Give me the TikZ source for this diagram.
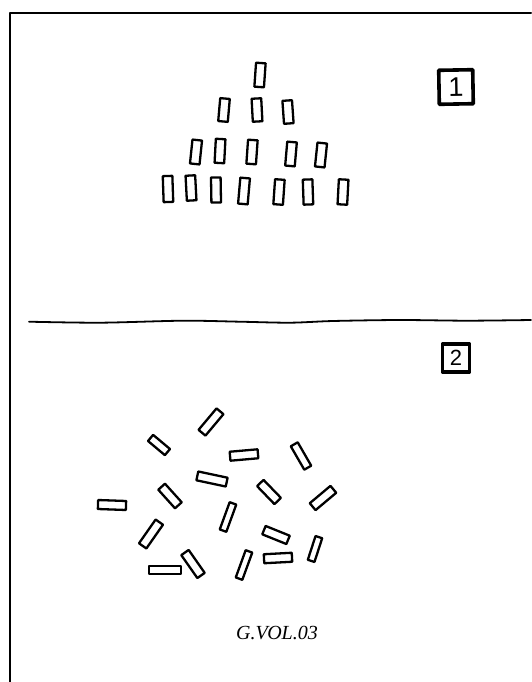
\documentclass[tikz,border=0pt]{standalone}
\usepackage{fontspec}
\setmainfont{Liberation Serif}
\setsansfont{Liberation Sans}
\usepackage{tikz}
\usepackage{xcolor}

\begin{document}
\begin{tikzpicture}[x=1pt,y=-1pt,line cap=round,line join=round,
  stick/.style={line width=2.3pt},
  numbox/.style={draw,line width=3.6pt,inner sep=0pt,font=\sffamily\fontsize{27}{27}\selectfont}]
\useasboundingbox (0,0) rectangle (531,682);
\draw[line width=2pt] (10,682) -- (10,13) -- (531,13);
% 1: sticks in a stack
\draw[stick,shift={(260,75)},rotate=-4] (-4.8,-12) rectangle (4.8,12);
\draw[stick,shift={(224,110)},rotate=-5] (-4.8,-11.5) rectangle (4.8,11.5);
\draw[stick,shift={(257,110)},rotate=3] (-4.8,-11.5) rectangle (4.8,11.5);
\draw[stick,shift={(288,112)},rotate=4] (-4.8,-11.5) rectangle (4.8,11.5);
\draw[stick,shift={(196,152)},rotate=-6] (-4.8,-12) rectangle (4.8,12);
\draw[stick,shift={(220,151)},rotate=-3] (-4.8,-12) rectangle (4.8,12);
\draw[stick,shift={(252,152)},rotate=-4] (-4.8,-12) rectangle (4.8,12);
\draw[stick,shift={(291,154)},rotate=-5] (-4.8,-12) rectangle (4.8,12);
\draw[stick,shift={(321,155)},rotate=-6] (-4.8,-12) rectangle (4.8,12);
\draw[stick,shift={(168,189)},rotate=2] (-4.8,-13) rectangle (4.8,13);
\draw[stick,shift={(191,188)},rotate=3] (-4.8,-12.5) rectangle (4.8,12.5);
\draw[stick,shift={(216,190)},rotate=1] (-4.8,-12.5) rectangle (4.8,12.5);
\draw[stick,shift={(244,191)},rotate=-5] (-4.8,-13) rectangle (4.8,13);
\draw[stick,shift={(279,192)},rotate=-4] (-4.8,-12.5) rectangle (4.8,12.5);
\draw[stick,shift={(308,192)},rotate=2] (-4.8,-12.5) rectangle (4.8,12.5);
\draw[stick,shift={(343,192)},rotate=-3] (-4.8,-12.5) rectangle (4.8,12.5);
\node[numbox,minimum width=34pt,minimum height=34pt,rotate=1] (box1) at (456,87) {1};
% divider
\draw[line width=1.8pt] plot[smooth] coordinates {(29,321.7) (100,322.7) (183,320.7) (240,321.7) (290,322.7) (333,321) (400,320) (467,320.7) (531,320)};
% 2: sticks thrown down
\node[numbox,minimum width=27pt,minimum height=28pt,font=\sffamily\fontsize{22}{22}\selectfont] (box2) at (456,358) {2};
\draw[stick,shift={(211,422)},rotate=50] (-14,-4.5) rectangle (14,4.5);
\draw[stick,shift={(159,445)},rotate=-40] (-11,-4) rectangle (11,4);
\draw[stick,shift={(244,455)},rotate=5] (-14,-4.5) rectangle (14,4.5);
\draw[stick,shift={(301,456)},rotate=-60] (-13.5,-4) rectangle (13.5,4);
\draw[stick,shift={(212,479)},rotate=-12] (-15,-4.5) rectangle (15,4.5);
\draw[stick,shift={(269,492)},rotate=-46] (-12.5,-4.5) rectangle (12.5,4.5);
\draw[stick,shift={(323,498)},rotate=40] (-13.5,-4.5) rectangle (13.5,4.5);
\draw[stick,shift={(112,505)},rotate=-2] (-14,-4.5) rectangle (14,4.5);
\draw[stick,shift={(170,496)},rotate=-48] (-12.5,-4.5) rectangle (12.5,4.5);
\draw[stick,shift={(228,517)},rotate=70] (-14.5,-3.5) rectangle (14.5,3.5);
\draw[stick,shift={(151,534)},rotate=55] (-14.5,-4.5) rectangle (14.5,4.5);
\draw[stick,shift={(276,535)},rotate=-22] (-13,-4.5) rectangle (13,4.5);
\draw[stick,shift={(315,549)},rotate=72] (-12.5,-3.5) rectangle (12.5,3.5);
\draw[stick,shift={(278,558)},rotate=3] (-14,-4.5) rectangle (14,4.5);
\draw[stick,shift={(165,570)},rotate=0] (-16,-4) rectangle (16,4);
\draw[stick,shift={(193,564)},rotate=-55] (-14,-4.5) rectangle (14,4.5);
\draw[stick,shift={(244,565)},rotate=70] (-14.5,-3.5) rectangle (14.5,3.5);
\node[font=\itshape\fontsize{20}{22}\selectfont] (title) at (277,633) {G.VOL.03};
\end{tikzpicture}
\end{document}
